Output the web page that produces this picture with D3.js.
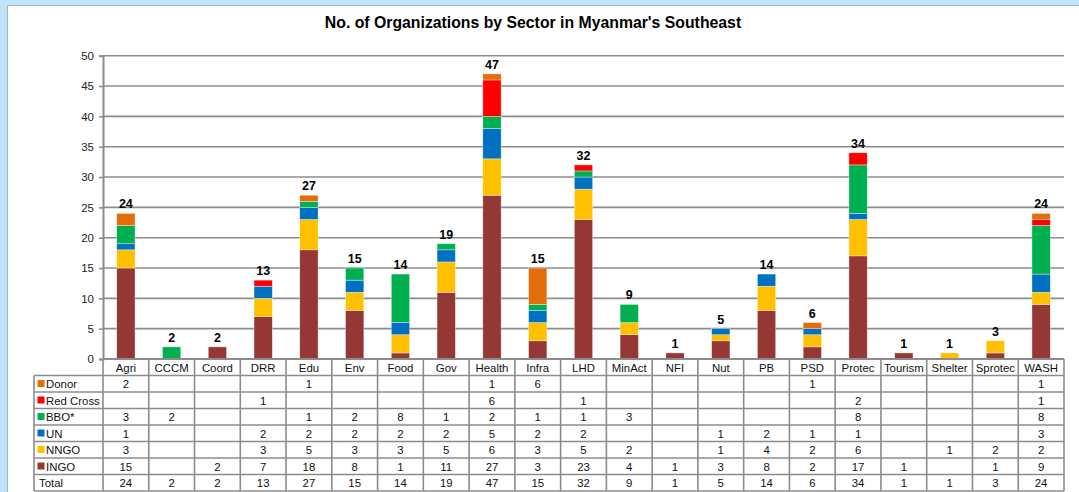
<!DOCTYPE html>
<html>
<head>
<meta charset="utf-8">
<script src="https://cdn.jsdelivr.net/npm/d3@7"></script>
<style>
  html, body { margin: 0; padding: 0; background: #bfe4f9; }
  svg { display: block; font-family: "Liberation Sans", Arial, sans-serif; }
</style>
</head>
<body>
<svg id="chart" width="1079" height="492"></svg>
<script>
const categories = ["Agri","CCCM","Coord","DRR","Edu","Env","Food","Gov","Health","Infra","LHD","MinAct","NFI","Nut","PB","PSD","Protec","Tourism","Shelter","Sprotec","WASH"];
const ingo     = [15,0,2,7,18,8,1,11,27,3,23,4,1,3,8,2,17,1,0,1,9];
const nngo     = [3,0,0,3,5,3,3,5,6,3,5,2,0,1,4,2,6,0,1,2,2];
const un       = [1,0,0,2,2,2,2,2,5,2,2,0,0,1,2,1,1,0,0,0,3];
const bbo      = [3,2,0,0,1,2,8,1,2,1,1,3,0,0,0,0,8,0,0,0,8];
const redCross = [0,0,0,1,0,0,0,0,6,0,1,0,0,0,0,0,2,0,0,0,1];
const donor    = [2,0,0,0,1,0,0,0,1,6,0,0,0,0,0,1,0,0,0,0,1];
const seriesNames = ["INGO","NNGO","UN","BBO*","Red Cross","Donor"];
const seriesColors = ["#953735","#FFC000","#0070C0","#00B050","#FF0000","#E46C0A"];
const yTicks = [0,5,10,15,20,25,30,35,40,45,50];
const title = "No. of Organizations by Sector in Myanmar's Southeast";

const seriesValues = [ingo, nngo, un, bbo, redCross, donor];
const rows = categories.map((c, i) => {
  const o = { cat: c };
  seriesNames.forEach((s, k) => o[s] = seriesValues[k][i]);
  return o;
});
const totals = categories.map((c, i) => seriesValues.reduce((a, s) => a + s[i], 0));

const svg = d3.select("#chart");

// white panel
svg.append("rect").attr("x", 7.5).attr("y", 5.5).attr("width", 1090).attr("height", 500)
  .attr("fill", "#fff").attr("stroke", "#a9b4bd").attr("stroke-width", 1);

const plotLeft = 103, plotRight = 1064, plotTop = 55.7, plotBottom = 359;
const x = d3.scaleBand().domain(categories).range([plotLeft, plotRight]).paddingInner(0).paddingOuter(0);
const y = d3.scaleLinear().domain([0, 50]).range([plotBottom, plotTop]);
const barW = x.bandwidth() * 0.4;

// title
svg.append("text").attr("x", 533).attr("y", 27.5).attr("text-anchor", "middle")
  .attr("font-weight", "bold").attr("font-size", 15.8).attr("fill", "#000").text(title);

// gridlines
svg.append("g").selectAll("line").data(yTicks.filter(t => t > 0)).join("line")
  .attr("x1", plotLeft).attr("x2", plotRight)
  .attr("y1", d => y(d)).attr("y2", d => y(d))
  .attr("stroke", "#8c8c8c").attr("stroke-width", 1.6);

// y axis
const yAxis = d3.axisLeft(y).tickValues(yTicks).tickSize(4).tickPadding(5);
const ya = svg.append("g").attr("transform", `translate(${plotLeft},0)`).call(yAxis);
ya.select(".domain").attr("stroke", "#8c8c8c").attr("stroke-width", 2);
ya.selectAll(".tick line").attr("stroke", "#8c8c8c").attr("stroke-width", 1.6);
ya.selectAll(".tick text").attr("font-size", 11.5).attr("fill", "#222")
  .attr("font-family", "Liberation Sans, Arial, sans-serif");

// stacked bars
const stack = d3.stack().keys(seriesNames)(rows);
const g = svg.append("g");
stack.forEach((layer, k) => {
  g.append("g").selectAll("rect").data(layer.filter(d => d[1] - d[0] > 0)).join("rect")
    .attr("x", d => x(d.data.cat) + (x.bandwidth() - barW) / 2)
    .attr("width", barW)
    .attr("y", d => y(d[1]))
    .attr("height", d => y(d[0]) - y(d[1]))
    .attr("fill", seriesColors[k])
    .attr("stroke", "rgba(255,255,255,0.6)").attr("stroke-width", 0.6);
});

// total labels
svg.append("g").selectAll("text").data(categories).join("text")
  .attr("x", d => x(d) + x.bandwidth() / 2)
  .attr("y", (d, i) => y(totals[i]) - 5)
  .attr("text-anchor", "middle").attr("font-weight", "bold").attr("font-size", 12.5)
  .text((d, i) => totals[i]);

// data table
const rowH = 16.5;
const headerTop = plotBottom;
const tableRows = [
  { name: "Donor", vals: donor, color: "#E46C0A" },
  { name: "Red Cross", vals: redCross, color: "#FF0000" },
  { name: "BBO*", vals: bbo, color: "#00B050" },
  { name: "UN", vals: un, color: "#0070C0" },
  { name: "NNGO", vals: nngo, color: "#FFC000" },
  { name: "INGO", vals: ingo, color: "#953735" },
  { name: "Total", vals: totals, color: null }
];
const labelLeft = 34;
const firstRowTop = headerTop + rowH;
const tableBottom = firstRowTop + tableRows.length * rowH;
const tg = svg.append("g");
const lineColor = "#8c8c8c";
const fs = 11.4;

// horizontal lines
tg.append("line").attr("x1", plotLeft).attr("x2", plotRight).attr("y1", headerTop).attr("y2", headerTop)
  .attr("stroke", lineColor).attr("stroke-width", 2);
d3.range(tableRows.length + 1).forEach(r => {
  const yy = firstRowTop + r * rowH;
  tg.append("line").attr("x1", labelLeft).attr("x2", plotRight).attr("y1", yy).attr("y2", yy)
    .attr("stroke", lineColor).attr("stroke-width", 1.6);
});
// vertical lines
tg.append("line").attr("x1", labelLeft).attr("x2", labelLeft).attr("y1", firstRowTop).attr("y2", tableBottom)
  .attr("stroke", lineColor).attr("stroke-width", 1.6);
d3.range(categories.length + 1).forEach(i => {
  const xx = plotLeft + i * x.bandwidth();
  tg.append("line").attr("x1", xx).attr("x2", xx).attr("y1", headerTop).attr("y2", tableBottom)
    .attr("stroke", lineColor).attr("stroke-width", 1.6);
});

// header labels
tg.append("g").selectAll("text").data(categories).join("text")
  .attr("x", d => x(d) + x.bandwidth() / 2).attr("y", headerTop + 12.5)
  .attr("text-anchor", "middle").attr("font-size", fs).attr("fill", "#111").text(d => d);

// row labels and values
tableRows.forEach((row, r) => {
  const yTop = firstRowTop + r * rowH;
  if (row.color) {
    tg.append("rect").attr("x", labelLeft + 3.5).attr("y", yTop + 4.5).attr("width", 7).attr("height", 7)
      .attr("fill", row.color);
  }
  tg.append("text").attr("x", row.color ? labelLeft + 12 : labelLeft + 5).attr("y", yTop + 12.5)
    .attr("font-size", fs).attr("fill", "#111").text(row.name);
  tg.append("g").selectAll("text").data(row.vals.map((v, i) => ({ v, c: categories[i] })).filter(d => d.v > 0))
    .join("text")
    .attr("x", d => x(d.c) + x.bandwidth() / 2).attr("y", yTop + 12.5)
    .attr("text-anchor", "middle").attr("font-size", fs).attr("fill", "#111").text(d => d.v);
});
</script>
</body>
</html>
